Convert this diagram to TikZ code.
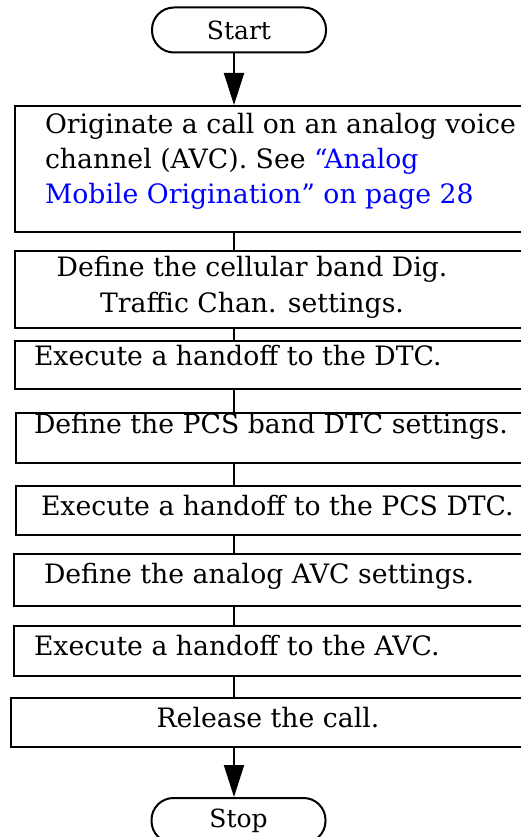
\documentclass[tikz,border=0pt]{standalone}
\usepackage{fontspec}
\setmainfont{DejaVu Serif}
\usetikzlibrary{arrows.meta}
\definecolor{linkblue}{RGB}{0,0,255}
\begin{document}
\begin{tikzpicture}[x=1pt,y=-1pt,line width=2pt,
    stepbox/.style={draw,rectangle,anchor=north west,inner sep=0pt,minimum width=530pt},
    term/.style={draw,rectangle,rounded corners=22pt,minimum width=174pt,minimum height=45pt,inner sep=0pt,font=\fontsize{25}{25}\selectfont},
    txt/.style={inner sep=0pt,font=\fontsize{26.7}{35}\selectfont},
    flow/.style={-{Triangle[length=32pt,width=20pt]}}]
  \path[use as bounding box,clip] (0,0) rectangle (521,837);
  \coordinate (axis) at (234,0);
  \node[term] (start) at (239,30) {Start};
  \node[stepbox,minimum height=126pt] (b1) at (14,105) {};
  \node[stepbox,minimum height=77pt] (b2) at (14,250) {};
  \node[stepbox,minimum height=48pt] (b3) at (14,340) {};
  \node[stepbox,minimum height=50pt] (b4) at (15,412) {};
  \node[stepbox,minimum height=49pt] (b5) at (15,485) {};
  \node[stepbox,minimum height=52pt] (b6) at (13,553) {};
  \node[stepbox,minimum height=50pt] (b7) at (13,625) {};
  \node[stepbox,minimum height=49pt] (b8) at (10,697) {};
  \node[term] (stop) at (238.5,820.5) {Stop};
  % multi-line nodes sit on their last baseline
  \node[txt,anchor=base west,align=left] (t1) at (44,203) {Originate a call on an analog voice\\
    channel (AVC). See \textcolor{linkblue}{``Analog}\\
    \textcolor{linkblue}{Mobile Origination'' on page 28}};
  \node[txt,anchor=base,align=center,font=\fontsize{26.7}{36}\selectfont] (t2) at (252,312) {Define the cellular band Dig.\\Traffic Chan. settings.};
  \node[txt,anchor=base west] (t3) at (33,365) {Execute a handoff to the DTC.};
  \node[txt,anchor=base west] (t4) at (33,433) {Define the PCS band DTC settings.};
  \node[txt,anchor=base west] (t5) at (40,515) {Execute a handoff to the PCS DTC.};
  \node[txt,anchor=base west] (t6) at (43,583) {Define the analog AVC settings.};
  \node[txt,anchor=base west] (t7) at (33,655) {Execute a handoff to the AVC.};
  \node[txt,anchor=base] (t8) at (268,727) {Release the call.};
  \draw[flow] (start.south -| axis) -- (b1.north -| axis);
  \draw (b1.south -| axis) -- (b2.north -| axis);
  \draw (b2.south -| axis) -- (b3.north -| axis);
  \draw (b3.south -| axis) -- (b4.north -| axis);
  \draw (b4.south -| axis) -- (b5.north -| axis);
  \draw (b5.south -| axis) -- (b6.north -| axis);
  \draw (b6.south -| axis) -- (b7.north -| axis);
  \draw (b7.south -| axis) -- (b8.north -| axis);
  \draw[flow] (b8.south -| axis) -- (stop.north -| axis);
\end{tikzpicture}
\end{document}
